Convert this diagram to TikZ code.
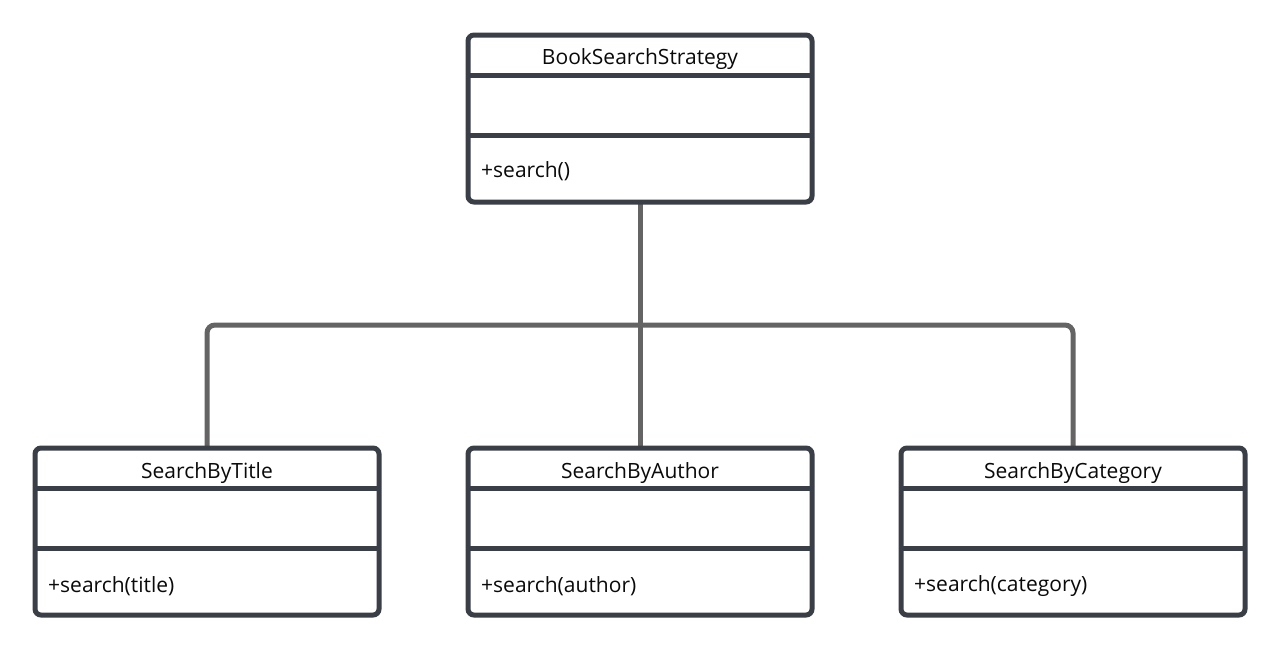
\documentclass[tikz,border=0pt]{standalone}
\usepackage{fontspec}
\setmainfont{Open Sans}
\definecolor{boxline}{RGB}{58,63,71}
\definecolor{conn}{RGB}{100,100,100}
\definecolor{txt}{RGB}{10,10,10}
\begin{document}
\begin{tikzpicture}[x=1pt,y=-1pt,
  classbox/.style={draw=boxline, line width=5pt, fill=white, rounded corners=6pt,
    minimum width=339pt, minimum height=162pt, inner sep=0pt},
  divider/.style={draw=boxline, line width=5pt},
  conline/.style={draw=conn, line width=5pt, rounded corners=8pt},
  titletext/.style={font=\fontsize{21}{24}\selectfont, text=txt, anchor=center, inner sep=0pt},
  methodtext/.style={font=\fontsize{21}{24}\selectfont, text=txt, anchor=west, inner sep=0pt}]
\useasboundingbox (0,0) rectangle (1280,651);
\fill[white] (0,0) rectangle (1280,651);
% positions
\coordinate (topc) at (640,118.5);
\coordinate (lc) at (207,531.5);
\coordinate (mc) at (640,531.5);
\coordinate (rc) at (1073,531.5);
% nodes (empty boxes first so connectors can reference them)
\node[classbox, draw=none, fill=none] (top) at (topc) {};
\node[classbox, draw=none, fill=none] (left) at (lc) {};
\node[classbox, draw=none, fill=none] (mid) at (mc) {};
\node[classbox, draw=none, fill=none] (right) at (rc) {};
\coordinate (bus) at (640,325);
% connectors
\draw[conline] (left.north) |- (bus) -| (right.north);
\draw[conn, line width=5pt] (top.south) -- (mid.north);
% boxes
\foreach \n in {top,left,mid,right}{
  \draw[classbox] (\n.north west) rectangle (\n.south east);
  \draw[divider] ([yshift=-40.5pt]\n.north west) -- ([yshift=-40.5pt]\n.north east);
  \draw[divider] ([yshift=-100.5pt]\n.north west) -- ([yshift=-100.5pt]\n.north east);
}
% texts
\node[titletext] (topname) at ([yshift=-24pt]top.north) {BookSearchStrategy};
\node[methodtext] (topop) at ([xshift=13pt,yshift=-136pt]top.north west) {+search()};
\node[titletext] (leftname) at ([yshift=-25pt]left.north) {SearchByTitle};
\node[methodtext] (leftop) at ([xshift=13pt,yshift=-138pt]left.north west) {+search(title)};
\node[titletext] (midname) at ([yshift=-25pt]mid.north) {SearchByAuthor};
\node[methodtext] (midop) at ([xshift=13pt,yshift=-138pt]mid.north west) {+search(author)};
\node[titletext] (rightname) at ([yshift=-25pt]right.north) {SearchByCategory};
\node[methodtext] (rightop) at ([xshift=13pt,yshift=-138pt]right.north west) {+search(category)};
\end{tikzpicture}
\end{document}
